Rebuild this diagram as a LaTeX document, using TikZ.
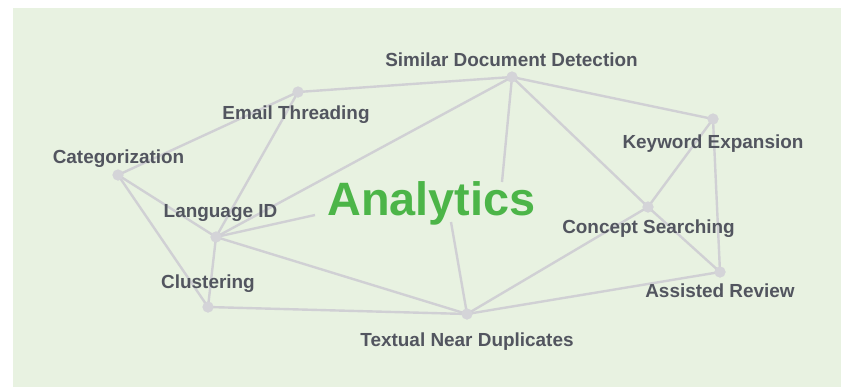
\documentclass[tikz,border=0pt]{standalone}
\usepackage{fontspec}
\setmainfont{Liberation Sans}
\definecolor{bgfill}{RGB}{232,242,225}
\definecolor{linkgray}{RGB}{208,208,212}
\definecolor{dotgray}{RGB}{212,212,216}
\definecolor{labelgray}{RGB}{82,85,95}
\definecolor{hubgreen}{RGB}{76,181,72}
\begin{document}
\begin{tikzpicture}[x=1bp,y=-1bp,
  link/.style={draw=linkgray,line width=2.4bp},
  dot/.style={circle,fill=dotgray,inner sep=0pt,minimum size=11bp},
  lbl/.style={anchor=base,inner sep=0pt,text=labelgray,font=\fontsize{19}{22}\selectfont\bfseries},
  hub/.style={anchor=base,inner sep=0pt,text=hubgreen,font=\fontsize{47}{54}\selectfont\bfseries}]
  \useasboundingbox (0,0) rectangle (841,387);
  \fill[bgfill] (13,8) rectangle (841,387);

  % topic points
  \node[dot] (cat) at (118,175) {};
  \node[dot] (email) at (298,92) {};
  \node[dot] (sdd) at (512,77) {};
  \node[dot] (kw) at (713,119) {};
  \node[dot] (cs) at (648,207) {};
  \node[dot] (ar) at (720,272) {};
  \node[dot] (tnd) at (467,314) {};
  \node[dot] (clu) at (208,307) {};
  \node[dot] (lid) at (216,237) {};

  % central title and where spokes stop short of it
  \node[hub] (ana) at (431.5,215) {Analytics};
  \coordinate (anaL) at (315,215);
  \coordinate (anaT) at (502,182);
  \coordinate (anaB) at (451,222);

  % connectors
  \path[link] (cat.center) -- (email.center);
  \path[link] (cat.center) -- (lid.center);
  \path[link] (cat.center) -- (clu.center);
  \path[link] (email.center) -- (sdd.center);
  \path[link] (email.center) -- (lid.center);
  \path[link] (sdd.center) -- (lid.center);
  \path[link] (sdd.center) -- (anaT);
  \path[link] (sdd.center) -- (kw.center);
  \path[link] (sdd.center) -- (cs.center);
  \path[link] (kw.center) -- (cs.center);
  \path[link] (kw.center) -- (ar.center);
  \path[link] (cs.center) -- (ar.center);
  \path[link] (cs.center) -- (tnd.center);
  \path[link] (ar.center) -- (tnd.center);
  \path[link] (tnd.center) -- (anaB);
  \path[link] (lid.center) -- (anaL);
  \path[link] (lid.center) -- (tnd.center);
  \path[link] (lid.center) -- (clu.center);
  \path[link] (clu.center) -- (tnd.center);

  % redraw points over the connectors
  \foreach \p in {cat,email,sdd,kw,cs,ar,tnd,clu,lid}
    \fill[dotgray] (\p) circle (5.5bp);

  % labels
  \node[lbl] (tsdd) at (511.5,66) {Similar Document Detection};
  \node[lbl] (temail) at (296,119.5) {Email Threading};
  \node[lbl] (tcat) at (118.5,163) {Categorization};
  \node[lbl] (tkw) at (713,148) {Keyword Expansion};
  \node[lbl] (tlid) at (220.5,217) {Language ID};
  \node[lbl] (tcs) at (648.5,233) {Concept Searching};
  \node[lbl] (tclu) at (208,288) {Clustering};
  \node[lbl] (tar) at (720,297) {Assisted Review};
  \node[lbl] (ttnd) at (467,346) {Textual Near Duplicates};
\end{tikzpicture}
\end{document}
